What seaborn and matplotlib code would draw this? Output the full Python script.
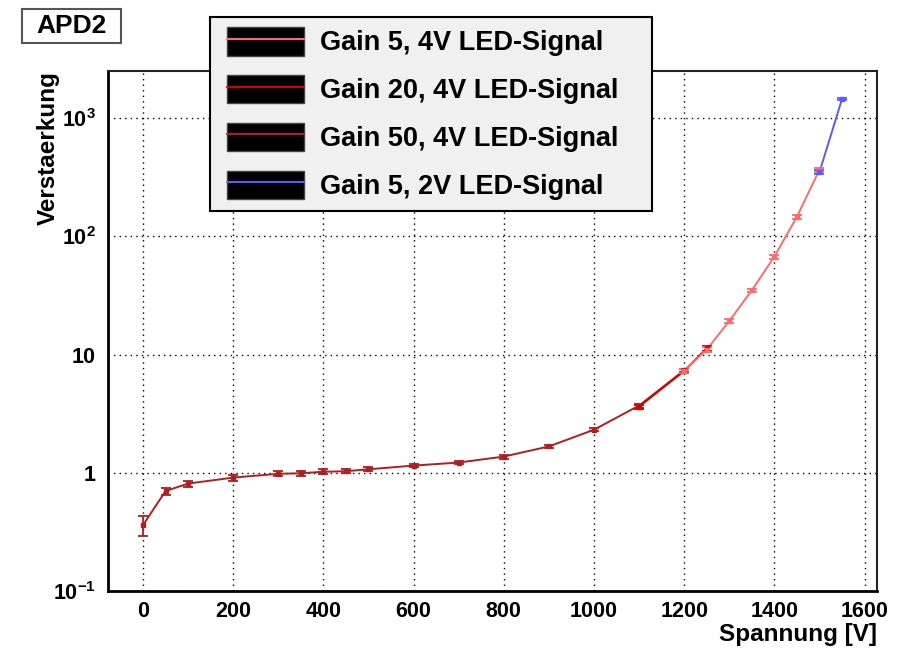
import numpy as np
import pandas as pd
import matplotlib
matplotlib.use("Agg")
import matplotlib.pyplot as plt
import seaborn as sns
from matplotlib.patches import Rectangle
from matplotlib.lines import Line2D
from matplotlib.legend_handler import HandlerTuple
from matplotlib.ticker import FixedLocator, FixedFormatter, MultipleLocator

# ---- data ----
series_names = ["Gain 5, 4V LED-Signal", "Gain 20, 4V LED-Signal",
                "Gain 50, 4V LED-Signal", "Gain 5, 2V LED-Signal"]

g50_x = [0, 50, 100, 200, 300, 350, 400, 450, 500, 600, 700, 800, 900, 1000, 1100, 1200]
g50_y = [0.36, 0.70, 0.81, 0.91, 0.98, 0.99, 1.02, 1.03, 1.07, 1.15, 1.22, 1.37, 1.67, 2.31, 3.70, 7.36]
g50_e = [0.07, 0.05, 0.05, 0.05, 0.05, 0.05, 0.05, 0.04, 0.04, 0.04, 0.04, 0.05, 0.05, 0.06, 0.15, 0.20]

g20_x = [1100, 1200, 1250]
g20_y = [3.62, 7.25, 11.3]
g20_e = [0.15, 0.25, 0.6]

g5_x = [1200, 1250, 1300, 1350, 1400, 1450, 1500]
g5_y = [7.30, 11.0, 19.2, 34.9, 67.3, 146.0, 365.0]
g5_e = [0.3, 0.5, 0.8, 1.2, 2.5, 5.0, 15.0]

g5b_x = [1500, 1550]
g5b_y = [350.0, 1449.0]
g5b_e = [15.0, 40.0]

colors = ["#ff6a6a", "#d40000", "#b01e1e", "#5a5aff"]

ytick_vals = [0.1, 1, 10, 100, 1000]
ytick_labels = [r"$\mathbf{10^{-1}}$", "1", "10", r"$\mathbf{10^{2}}$", r"$\mathbf{10^{3}}$"]

# ---- style ----
sns.set_theme(style="white")
plt.rcParams["font.family"] = ["Liberation Sans", "DejaVu Sans"]
plt.rcParams["font.weight"] = "bold"
plt.rcParams["text.color"] = "black"
plt.rcParams["axes.labelcolor"] = "black"
plt.rcParams["xtick.color"] = "black"
plt.rcParams["ytick.color"] = "black"
plt.rcParams["mathtext.fontset"] = "custom"
plt.rcParams["mathtext.rm"] = "Liberation Sans:bold"
plt.rcParams["mathtext.bf"] = "Liberation Sans:bold"
plt.rcParams["mathtext.it"] = "Liberation Sans:bold"

frames = []
for name, xs, ys in zip(series_names, [g5_x, g20_x, g50_x, g5b_x], [g5_y, g20_y, g50_y, g5b_y]):
    frames.append(pd.DataFrame({"V": xs, "gain": ys, "series": name}))
df = pd.concat(frames, ignore_index=True)

fig = plt.figure(figsize=(9.06, 6.48), dpi=100)
fig.patch.set_facecolor("white")
ax = fig.add_axes([108 / 906, 57 / 648, 769 / 906, 520 / 648])

order = [2, 1, 0, 3]
palette = dict(zip(series_names, colors))
sns.lineplot(data=df, x="V", y="gain", hue="series", palette=palette,
             hue_order=[series_names[i] for i in order],
             estimator=None, sort=False, legend=False, ax=ax, linewidth=1.4)

for xs, ys, es, c in [(g50_x, g50_y, g50_e, colors[2]), (g20_x, g20_y, g20_e, colors[1]),
                      (g5_x, g5_y, g5_e, colors[0]), (g5b_x, g5b_y, g5b_e, colors[3])]:
    ax.errorbar(xs, ys, yerr=es, fmt="s", ms=2.5, color=c, ecolor=c,
                elinewidth=1.3, capsize=3.5, capthick=1.3, lw=0)

ax.set_yscale("log")
ax.set_xlim(-77.5, 1627.5)
ax.set_ylim(0.1, 2500)

ax.xaxis.set_major_locator(MultipleLocator(200))
ax.xaxis.set_minor_locator(MultipleLocator(50))
ax.yaxis.set_major_locator(FixedLocator(ytick_vals))
ax.yaxis.set_major_formatter(FixedFormatter(ytick_labels))
minor = [m * 10.0 ** d for d in range(-1, 4) for m in range(2, 10)]
ax.yaxis.set_minor_locator(FixedLocator(minor))
ax.yaxis.set_minor_formatter(FixedFormatter([""] * len(minor)))

ax.grid(True, which="major", color="black", linestyle=(0, (1, 3)), linewidth=1.0)
ax.tick_params(axis="x", which="major", direction="in", length=16, width=1.3,
               labelsize=15.5, pad=7, top=False)
ax.tick_params(axis="x", which="minor", direction="in", length=8, width=1.0, top=False)
ax.tick_params(axis="y", which="major", direction="in", length=20, width=1.3,
               labelsize=15.5, pad=9, right=False)
ax.tick_params(axis="y", which="minor", direction="in", length=10, width=1.0, right=False)
for lab in ax.get_xticklabels() + ax.get_yticklabels():
    lab.set_fontweight("bold")

for s in ["left", "bottom"]:
    ax.spines[s].set_linewidth(2.0)
    ax.spines[s].set_color("black")
for s in ["top", "right"]:
    ax.spines[s].set_linewidth(1.5)
    ax.spines[s].set_color("#222222")
    ax.spines[s].set_visible(True)

ax.set_xlabel("Spannung [V]", fontsize=17.5, fontweight="bold", loc="right", labelpad=1)
ax.set_ylabel("Verstaerkung", fontsize=17.5, fontweight="bold", loc="top")
ax.yaxis.set_label_coords((60 - 108) / 769, 1.0)

# title box
fig.patches.append(Rectangle((22 / 906, 1 - 43 / 648), 99 / 906, 34 / 648,
                             transform=fig.transFigure, facecolor="white",
                             edgecolor="#555555", linewidth=1.5, zorder=5))
fig.text(71 / 906, 1 - 26 / 648, "APD2", ha="center", va="center",
         fontsize=19, fontweight="bold", zorder=6)

# legend box (drawn separately so the padding matches)
fig.patches.append(Rectangle((210 / 906, 1 - 211 / 648), 442 / 906, 194 / 648,
                             transform=fig.transFigure, facecolor="#f0f0f0",
                             edgecolor="black", linewidth=1.5, zorder=8))
handles = []
for name, c in zip(series_names, colors):
    handles.append((Rectangle((0, 0), 1, 1, facecolor="black", edgecolor="#444444"),
                    Line2D([0], [0], color=c, lw=1.5)))
leg = fig.legend(handles, series_names,
                 handler_map={tuple: HandlerTuple(ndivide=1, pad=0.0)},
                 loc="upper left", bbox_to_anchor=(227 / 906, 1 - 27 / 648),
                 bbox_transform=fig.transFigure,
                 prop={"weight": "bold", "size": 19.5},
                 handlelength=2.85, handleheight=1.25, labelspacing=0.68,
                 handletextpad=0.6, borderpad=0.0, borderaxespad=0.0,
                 frameon=False)
leg.set_zorder(10)

fig.savefig("out.png", dpi=100)
